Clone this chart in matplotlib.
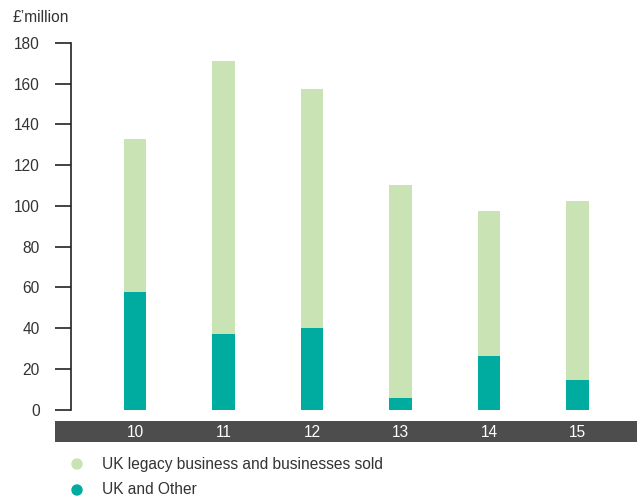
"""
Annual spend by segment, stacked columns
"""
import matplotlib.pyplot as plt
from matplotlib.patches import Ellipse

years = ["10", "11", "12", "13", "14", "15"]
uk_other = [57.5, 37, 40, 5.5, 26.5, 14.5]
uk_total = [133, 171, 157.5, 110.5, 97.5, 102.5]
uk_legacy = [t - o for t, o in zip(uk_total, uk_other)]

LIGHT = "#c9e3b4"
TEAL = "#00aba0"
BAND = "#4d4d4d"
TEXT = "#333333"

plt.rcParams["font.family"] = ["Liberation Sans", "DejaVu Sans"]

W, H = 637, 501
fig = plt.figure(figsize=(W / 100, H / 100), dpi=100)


def px_axes(left, top, right, bottom):
    return fig.add_axes([left / W, 1 - bottom / H, (right - left) / W, (bottom - top) / H])


# main plot area: y axis at x=71, zero line at y=409
ax = px_axes(71, 43, 637, 409.5)
x0, step = 135, 88.5
ax.set_xlim((71 - x0) / step, (637 - x0) / step)
ax.set_ylim(0, 180)

xs = range(len(years))
ax.bar(xs, uk_other, width=0.25, color=TEAL, zorder=2)
ax.bar(xs, uk_legacy, width=0.25, bottom=uk_other, color=LIGHT, zorder=2)

for side in ("top", "right", "bottom"):
    ax.spines[side].set_visible(False)
ax.spines["left"].set_color("#222222")
ax.spines["left"].set_linewidth(1.2)
ax.set_yticks(range(0, 181, 20))
ax.tick_params(axis="y", length=11.5, width=1.2, pad=11, labelsize=11.2,
               labelcolor=TEXT, color="#222222")
ax.set_xticks([])

fig.text(13 / W, 1 - 17 / H, "£’million", fontsize=11.2, color=TEXT, va="center")

# dark band with year labels
band = px_axes(55, 421, 637, 442)
band.set_facecolor(BAND)
band.set_xlim((55 - x0) / step, (637 - x0) / step)
band.set_ylim(0, 1)
for s in band.spines.values():
    s.set_visible(False)
band.set_xticks([])
band.set_yticks([])
for i, y in enumerate(years):
    band.text(i, 0.45, y, color="white", fontsize=11.2, ha="center", va="center")

# legend
legend_items = [("UK legacy business and businesses sold", LIGHT),
                ("UK and Other", TEAL)]
for k, (label, col) in enumerate(legend_items):
    yy = 1 - (464 + 26 * k) / H
    fig.patches.append(Ellipse((77 / W, yy), 10 / W, 10 / H, color=col,
                               transform=fig.transFigure, figure=fig))
    fig.text(102 / W, yy, label, fontsize=11.2, color=TEXT, va="center")

fig.savefig("out.png", dpi=100)
